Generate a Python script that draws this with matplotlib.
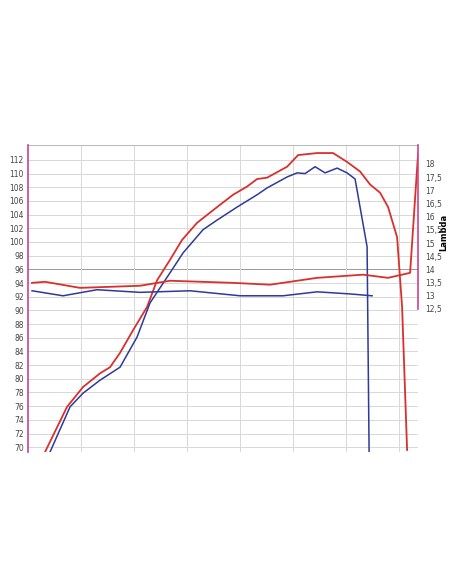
import numpy as np
import matplotlib.pyplot as plt

# x in arbitrary engine-speed units (grid line every 53)
pw_red_x = [17, 39, 55, 72, 82, 92, 105, 119, 129, 142, 154, 169, 189, 205, 219, 229, 239, 259, 270, 289, 305, 319, 332, 342, 352, 360, 369, 374, 379]
pw_red_y = [69.3, 75.9, 78.8, 80.8, 81.7, 83.8, 87.1, 90.5, 94.4, 97.4, 100.3, 102.8, 105.1, 106.9, 108.1, 109.2, 109.4, 111.0, 112.7, 113.0, 113.0, 111.7, 110.3, 108.4, 107.2, 105.1, 100.7, 90.5, 69.6]
pw_blue_x = [22, 42, 55, 72, 92, 109, 122, 142, 155, 175, 189, 209, 229, 239, 259, 269, 277, 287, 297, 309, 319, 327, 339, 341]
pw_blue_y = [69.3, 75.9, 77.9, 79.8, 81.7, 86.1, 91.1, 95.5, 98.4, 101.8, 103.2, 105.1, 106.9, 107.9, 109.5, 110.1, 110.0, 111.0, 110.1, 110.8, 110.1, 109.2, 99.3, 69.3]
lam_red_x = [4, 17, 52, 112, 142, 205, 242, 289, 335, 360, 382, 390]
lam_red_y = [13.49, 13.53, 13.30, 13.38, 13.57, 13.49, 13.42, 13.68, 13.80, 13.68, 13.87, 18.4]
lam_blue_x = [4, 35, 69, 112, 162, 212, 255, 289, 322, 344]
lam_blue_y = [13.19, 13.00, 13.23, 13.13, 13.19, 13.00, 13.00, 13.15, 13.07, 13.00]
left_ticks = list(range(70, 113, 2))
right_ticks = [12.5, 13, 13.5, 14, 14.5, 15, 15.5, 16, 16.5, 17, 17.5, 18]

fig = plt.figure(figsize=(4.52, 5.84), dpi=100)
ax = fig.add_axes([0.062, 0.226, 0.863, 0.526])
ax.set_xlim(0, 390)
ax.set_ylim(69.3, 114.2)
for y in left_ticks:
    ax.axhline(y, color='#999999' if y == 96 else '#d8d8d8', lw=0.7, zorder=0)
for x in range(53, 390, 53):
    ax.axvline(x, color='#d8d8d8', lw=0.7, zorder=0)
ax.axhline(114.2, color='#bbbbbb', lw=0.8)
ax.plot(pw_red_x, pw_red_y, color='#d9302c', lw=1.3, clip_on=True)
ax.plot(pw_blue_x, pw_blue_y, color='#2e3a9a', lw=1.1)
ax.set_yticks(left_ticks)
ax.set_xticks([])
for s in ['top', 'right', 'bottom']:
    ax.spines[s].set_visible(False)
ax.spines['left'].set_color('#cc4488')
ax.spines['left'].set_linewidth(1.2)
ax.tick_params(axis='y', length=0, labelsize=5.5, colors='#444444', pad=3)

ax2 = ax.twinx()
ax2.set_ylim(7.08, 18.72)
ax2.plot(lam_red_x, lam_red_y, color='#d9302c', lw=1.3)
ax2.plot(lam_blue_x, lam_blue_y, color='#2e3a9a', lw=1.1)
ax2.set_yticks(right_ticks)
ax2.set_yticklabels([str(t).replace('.', ',') if t % 1 else str(int(t)) for t in right_ticks])
for s in ['top', 'left', 'bottom']:
    ax2.spines[s].set_visible(False)
ax2.spines['right'].set_bounds(12.5, 18.72)
ax2.spines['right'].set_color('#cc4488')
ax2.spines['right'].set_linewidth(1.2)
ax2.tick_params(axis='y', length=0, labelsize=5.5, colors='#444444', pad=5)
fig.text(0.982, 1 - 232 / 584, 'Lambda', rotation=90, fontsize=6, fontweight='bold',
         ha='center', va='center')

fig.savefig('out.png', dpi=100)
